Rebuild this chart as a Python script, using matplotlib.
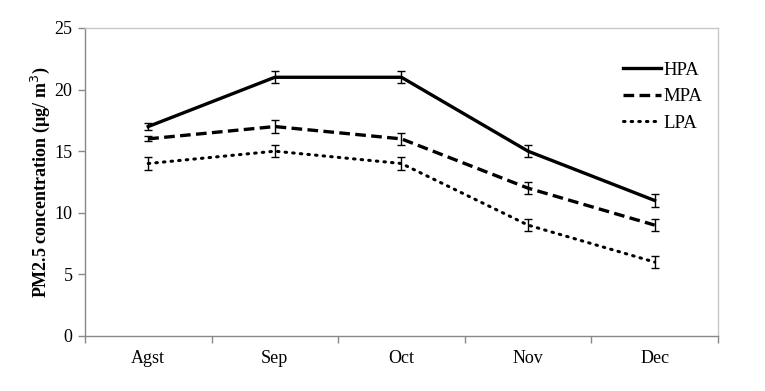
import matplotlib.pyplot as plt
from matplotlib.lines import Line2D
import numpy as np

plt.rc('font', family=['Liberation Serif', 'DejaVu Serif'], size=13)

months = ["Agst", "Sep", "Oct", "Nov", "Dec"]
hpa = [17, 21, 21, 15, 11]
hpa_err = [0.3, 0.5, 0.5, 0.5, 0.5]
mpa = [16, 17, 16, 12, 9]
mpa_err = [0.2, 0.5, 0.5, 0.5, 0.5]
lpa = [14, 15, 14, 9, 6]
lpa_err = [0.5, 0.5, 0.5, 0.5, 0.5]

x = np.arange(len(months))

fig = plt.figure(figsize=(7.65, 3.91), dpi=100)
ax = fig.add_axes([0.111, 0.1407, 0.8275, 0.7877])

styles = {
    "HPA": dict(linestyle="-", linewidth=2.4),
    "MPA": dict(linestyle=(0, (3.2, 1.6)), linewidth=2.4),
    "LPA": dict(linestyle=(0, (0.5, 2.0)), linewidth=2.2, dash_capstyle="round"),
}
ebkw = dict(ecolor="black", elinewidth=1, capsize=3, capthick=1, color="black")
for name, y, e in [("HPA", hpa, hpa_err), ("MPA", mpa, mpa_err),
                   ("LPA", lpa, lpa_err)]:
    ax.errorbar(x, y, yerr=e, **styles[name], **ebkw)

ax.set_xlim(-0.5, len(months) - 0.5)
ax.set_ylim(0, 25)
ax.set_yticks([0, 5, 10, 15, 20, 25])
ax.set_xticks(x)
ax.set_xticklabels(months)
ax.set_xticks(np.arange(-0.5, len(months)), minor=True)
ax.tick_params(axis="x", which="major", length=0, pad=10)
ax.tick_params(axis="x", which="minor", length=5, color="#888888", width=1)
ax.tick_params(axis="y", length=5, color="#888888", width=1, pad=4)

for s in ["left", "bottom"]:
    ax.spines[s].set_color("#888888")
for s in ["top", "right"]:
    ax.spines[s].set_color("#c8c8c8")
for s in ax.spines.values():
    s.set_linewidth(1)

ax.set_ylabel(r"PM2.5 concentration (µg/ m$^3$)", fontweight="bold",
              labelpad=2)

handles = [Line2D([], [], color="black", **styles[n]) for n in styles]
ax.legend(handles, list(styles), loc="upper right",
          bbox_to_anchor=(1.002, 0.945), frameon=False, fontsize=13.5,
          handlelength=2.0, handletextpad=0.15, labelspacing=0.5)

fig.savefig("out.png", dpi=100)
